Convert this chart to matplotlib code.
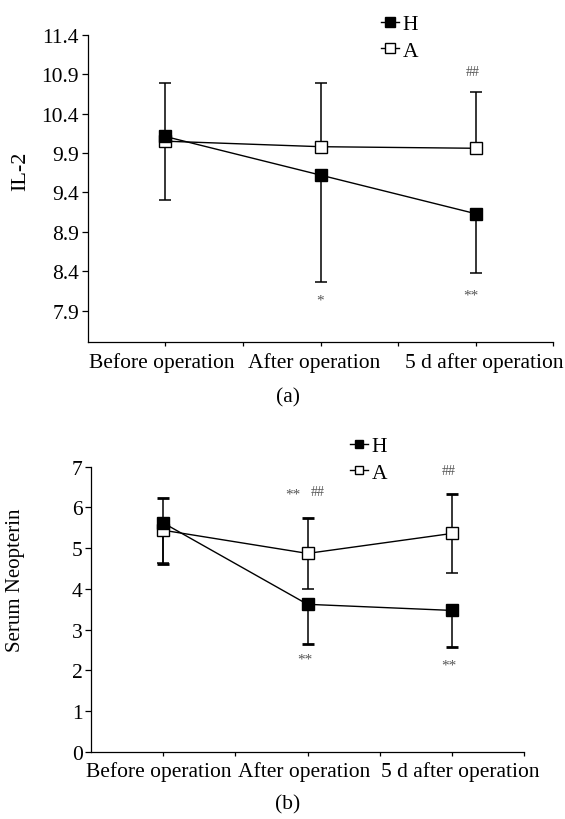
import numpy as np
import matplotlib.pyplot as plt
from matplotlib.transforms import ScaledTranslation

plt.rcParams['font.family'] = ['Liberation Serif', 'DejaVu Serif']

categories = ["Before operation", "After operation", "5 d after operation"]

# panel (a): IL-2
il2H = [10.11, 9.62, 9.13]
il2HLower = [0.81, 1.36, 0.75]
il2A = [10.05, 9.98, 9.96]
il2AUpper = [0.74, 0.81, 0.71]
il2Ticks = [7.9, 8.4, 8.9, 9.4, 9.9, 10.4, 10.9, 11.4]

# panel (b): serum neopterin
neoH = [5.62, 3.62, 3.47]
neoHLower = [1.00, 0.97, 0.90]
neoA = [5.44, 4.87, 5.36]
neoAErr = [0.80, 0.87, 0.97]
neoTicks = [0, 1, 2, 3, 4, 5, 6, 7]

W, H = 565, 820
fig = plt.figure(figsize=(W / 100, H / 100), dpi=100)

def pxAxes(left, top, right, bottom):
    return fig.add_axes([left / W, 1 - bottom / H, (right - left) / W, (bottom - top) / H])

axA = pxAxes(87.5, 35.7, 553.5, 343.3)
axB = pxAxes(91, 467.7, 524, 752.7)

x = np.arange(len(categories))
zeros = np.zeros(len(categories))
gray = '#555555'

def styleAxis(ax, ylim, yticks, fmt, labelShift):
    ax.set_xlim(-0.5, 2.5)
    ax.set_ylim(*ylim)
    ax.set_yticks(yticks)
    ax.set_yticklabels([fmt.format(v) for v in yticks])
    ax.set_xticks([0, 0.5, 1, 1.5, 2, 2.5])
    ax.set_xticklabels([categories[0], '', categories[1], '', categories[2], ''])
    for s in ['top', 'right']:
        ax.spines[s].set_visible(False)
    for s in ['left', 'bottom']:
        ax.spines[s].set_linewidth(0.9)
    ax.tick_params(axis='x', length=3, width=0.9, pad=4, labelsize=15.5)
    ax.tick_params(axis='y', length=4, width=0.9, pad=2, labelsize=15.5)
    # labels in the original sit a few pixels off their ticks
    for lab, dx in zip(ax.get_xticklabels()[::2], labelShift):
        lab.set_transform(lab.get_transform() + ScaledTranslation(dx / 100, 0, fig.dpi_scale_trans))

legendKw = dict(bbox_transform=fig.transFigure, frameon=False, fontsize=15.5,
                handlelength=0.85, handletextpad=0.15, labelspacing=0.32,
                borderpad=0, borderaxespad=0, markerscale=0.75, loc='upper left')

# ---- (a)
axA.errorbar(x, il2H, yerr=[il2HLower, zeros], fmt='none', ecolor='black',
             elinewidth=1.1, capsize=4, capthick=1.1, zorder=2)
axA.errorbar(x, il2A, yerr=[zeros, il2AUpper], fmt='none', ecolor='black',
             elinewidth=1.1, capsize=4, capthick=1.1, zorder=2)
axA.plot(x, il2H, color='black', lw=1, marker='s', ms=9, mfc='black',
         mec='black', label='H', zorder=4)
axA.plot(x, il2A, color='black', lw=1, marker='s', ms=9, mfc='white',
         mec='black', mew=1, label='A', zorder=3)
styleAxis(axA, (7.5, 11.4), il2Ticks, '{:.1f}', [-3.5, -6, 8])
axA.set_ylabel('IL-2', fontsize=16)
axA.yaxis.set_label_coords(-0.123, 0.5585)
axA.text(1, 8.03, '*', color=gray, fontsize=11, ha='center', va='center')
axA.text(1.97, 8.10, '**', color=gray, fontsize=11, ha='center', va='center')
axA.text(1.98, 10.93, '##', color=gray, fontsize=10, ha='center', va='center')
axA.legend(bbox_to_anchor=(381 / W, 1 - 15 / H), **legendKw)
fig.text(288 / W, 1 - 398 / H, '(a)', fontsize=15.5, ha='center', va='center')

# ---- (b)
axB.errorbar(x, neoH, yerr=[neoHLower, zeros], fmt='none', ecolor='black',
             elinewidth=1.1, capsize=4.3, capthick=2, zorder=2)
axB.errorbar(x, neoA, yerr=[zeros, neoAErr], fmt='none', ecolor='black',
             elinewidth=1.1, capsize=4.3, capthick=2, zorder=2)
axB.errorbar(x, neoA, yerr=[neoAErr, zeros], fmt='none', ecolor='black',
             elinewidth=1.1, capsize=4.3, capthick=1.1, zorder=2)
axB.plot(x, neoH, color='black', lw=1, marker='s', ms=8, mfc='black',
         mec='black', label='H', zorder=4)
axB.plot(x, neoA, color='black', lw=1, marker='s', ms=8, mfc='white',
         mec='black', mew=1, label='A', zorder=3)
styleAxis(axB, (0, 7), neoTicks, '{:d}', [-4.5, -3.5, 8.5])
axB.set_ylabel('Serum Neopterin', fontsize=15)
axB.yaxis.set_label_coords(-0.152, 0.606)
axB.text(0.9, 6.33, '**', color=gray, fontsize=11, ha='center', va='center')
axB.text(1.07, 6.38, '##', color=gray, fontsize=10, ha='center', va='center')
axB.text(1.98, 6.90, '##', color=gray, fontsize=10, ha='center', va='center')
axB.text(0.98, 2.27, '**', color=gray, fontsize=11, ha='center', va='center')
axB.text(1.98, 2.13, '**', color=gray, fontsize=11, ha='center', va='center')
axB.legend(bbox_to_anchor=(350 / W, 1 - 437 / H), **legendKw)
fig.text(288 / W, 1 - 805 / H, '(b)', fontsize=15.5, ha='center', va='center')

fig.savefig('out.png', dpi=100)
